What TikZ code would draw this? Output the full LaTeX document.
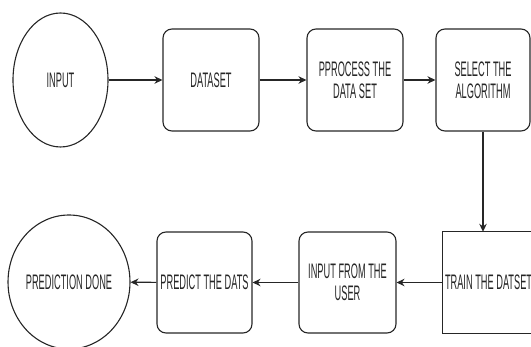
\documentclass[tikz,border=0pt]{standalone}
\usepackage{fontspec}
\setmainfont{Liberation Sans}[FakeStretch=0.44]
\usepackage{tikz}
\usetikzlibrary{arrows.meta,shapes.geometric}
\tikzset{
    line color/.style={black!85},
    stage box/.style={draw,line color,line width=1.1pt,rounded corners=9pt,minimum width=96pt,minimum height=102pt,inner sep=0pt,align=center},
    open box/.style={line color,minimum width=96pt,minimum height=101pt,inner sep=0pt},
    end point/.style={draw,line color,line width=1.1pt,ellipse,minimum width=95pt,minimum height=134pt,inner sep=0pt,align=center},
    arr/.style={->,>={Stealth[length=8pt,width=7.5pt]},line width=1.1pt,line color},
}
\tikzstyle{every node}=[font=\fontsize{21}{22}\selectfont,text=black!80]

\begin{document}
\begin{tikzpicture}[x=1pt,y=-1pt]
        \useasboundingbox (0,0) rectangle (531,347);
        % upper row
        \node[end point] (input) at (60.5,80) {INPUT};
        \node[stage box] (dataset) at (211,80) {DATASET};
        \node[stage box] (process) at (355,80) {PPROCESS THE\\DATA SET};
        \node[stage box,minimum width=94pt] (select) at (483,80) {SELECT THE\\ALGORITHM};
        % lower row, the last box runs past the right edge
        \node[open box,text width=92pt,inner xsep=1pt,align=flush left] (train) at (491,282.5) {TRAIN THE DATSET};
        \draw[line color,line width=1.1pt] (train.north east) -- (train.north west) -- (train.south west) -- (train.south east);
        \node[stage box,minimum width=97pt,minimum height=101pt] (user) at (347.5,282.5) {INPUT FROM THE\\USER};
        \node[stage box,minimum width=95pt,minimum height=101pt] (predict) at (204.5,282.5) {PREDICT THE DATS};
        \node[end point,minimum width=96pt] (done) at (69,282) {PREDICTION DONE};

        \draw[arr] (input) -- (dataset);
        \draw[arr] (dataset) -- (process);
        \draw[arr] (process) -- (select);
        \draw[arr] (select.south) -- (select.south |- train.north);
        \draw[arr] (train.west |- user) -- (user);
        \draw[arr] (user) -- (predict);
        \draw[arr] (predict) -- (done);
    \end{tikzpicture}
\end{document}
